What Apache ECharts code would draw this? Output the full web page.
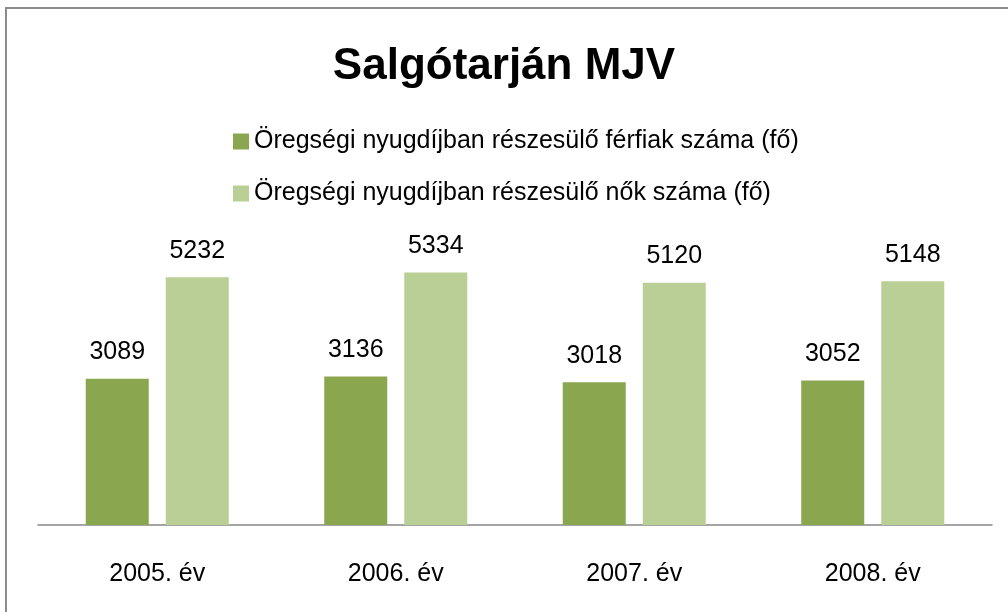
<!DOCTYPE html>
<html><head><meta charset="utf-8">
<script src="https://cdn.jsdelivr.net/npm/echarts@6/dist/echarts.min.js"></script>
<style>html,body{margin:0;padding:0;background:#fff}#c{width:1008px;height:612px}
#frame{position:absolute;left:5px;top:7px;width:1010px;height:620px;border-left:2px solid #8c8c8c;border-top:2px solid #8c8c8c;pointer-events:none}</style>
</head><body><div id="c"></div><div id="frame"></div>
<script>
const categories = ['2005. év', '2006. év', '2007. év', '2008. év'];
const seriesNames = ['Öregségi nyugdíjban részesülő férfiak száma (fő)', 'Öregségi nyugdíjban részesülő nők száma (fő)'];
const men = [3089, 3136, 3018, 3052];
const women = [5232, 5334, 5120, 5148];
const font = 'Liberation Sans';
const chart = echarts.init(document.getElementById('c'));
chart.setOption({
  animation: false,
  title: { text: 'Salgótarján MJV', left: 'center', top: 40, textStyle: { fontFamily: font, fontSize: 44, fontWeight: 'bold', color: '#000' } },
  legend: { orient: 'vertical', left: 228, top: 124, itemWidth: 16, itemHeight: 16, itemGap: 27, icon: 'rect',
    textStyle: { fontFamily: font, fontSize: 25, color: '#000' }, data: seriesNames },
  grid: { left: 38, right: 16, top: 241, bottom: 87 },
  xAxis: { type: 'category', data: categories, axisTick: { show: false },
    axisLine: { lineStyle: { color: '#888', width: 1.5 } },
    axisLabel: { fontFamily: font, fontSize: 25, color: '#000', margin: 37 } },
  yAxis: { type: 'value', min: 0, max: 6000, show: false, splitLine: { show: false } },
  series: [
    { name: seriesNames[0], type: 'bar', data: men, barWidth: 63, barGap: '27%', itemStyle: { color: '#8aa64e' },
      label: { show: true, position: 'top', distance: 14, fontFamily: font, fontSize: 25, color: '#000' } },
    { name: seriesNames[1], type: 'bar', data: women, barWidth: 63, itemStyle: { color: '#b9cf95' },
      label: { show: true, position: 'top', distance: 14, fontFamily: font, fontSize: 25, color: '#000' } }
  ]
});
</script></body></html>
